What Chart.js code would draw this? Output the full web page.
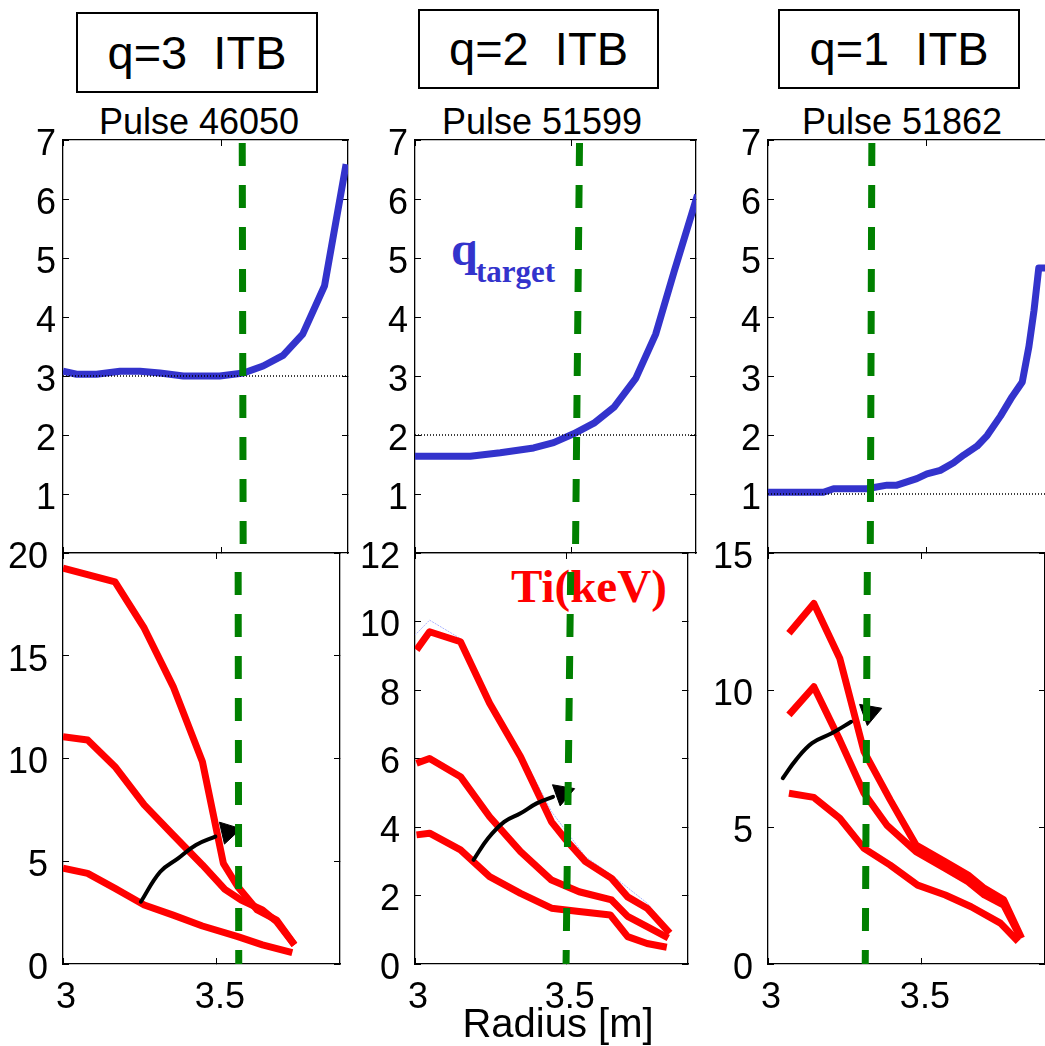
<!DOCTYPE html>
<html>
<head>
<meta charset="utf-8">
<script src="https://cdn.jsdelivr.net/npm/chart.js@4.4.1/dist/chart.umd.min.js"></script>
<style>
  html, body { margin:0; padding:0; background:#fff; }
  #fig { position:relative; width:1045px; height:1046px; overflow:hidden; background:#fff;
         font-family:"Liberation Sans", Arial, sans-serif; color:#000; }
  #fig canvas { position:absolute; z-index:2; }
  .box { position:absolute; border:2px solid #000; box-sizing:border-box; text-align:center;
         font-size:47px; white-space:pre; }
  .lbl { position:absolute; line-height:1; white-space:pre; z-index:1; }
  .pulse { font-size:36px; width:300px; text-align:center; }
  .serif { font-family:"Liberation Serif", "Times New Roman", serif; font-weight:bold; }
</style>
</head>
<body>
<div id="fig">
  <div class="box" style="left:76px;top:12px;width:242px;height:81px;line-height:77px">q=3  ITB</div>
  <div class="box" style="left:418px;top:9px;width:241px;height:80px;line-height:76px">q=2  ITB</div>
  <div class="box" style="left:778px;top:9px;width:242px;height:80px;line-height:76px">q=1  ITB</div>

  <div class="lbl pulse" style="left:49px;top:104px">Pulse 46050</div>
  <div class="lbl pulse" style="left:392px;top:104px">Pulse 51599</div>
  <div class="lbl pulse" style="left:752px;top:104px">Pulse 51862</div>

  <div class="lbl serif" style="left:451px;top:225px;font-size:48px;color:#3333cc">q</div>
  <div class="lbl serif" style="left:476px;top:256px;font-size:31px;color:#3333cc">target</div>
  <div class="lbl serif" style="left:511px;top:563px;font-size:47px;color:#ff0000">Ti(keV)</div>
  <div class="lbl" style="left:458px;top:1003px;font-size:40px;width:200px;text-align:center;z-index:3">Radius [m]</div>

  <canvas id="q46050"  width="354" height="437" style="left:0px;top:120px"></canvas>
  <canvas id="q51599"  width="350" height="437" style="left:352px;top:120px"></canvas>
  <canvas id="q51862"  width="354" height="437" style="left:705px;top:120px"></canvas>
  <canvas id="ti46050" width="354" height="513" style="left:0px;top:533px"></canvas>
  <canvas id="ti51599" width="350" height="513" style="left:352px;top:533px"></canvas>
  <canvas id="ti51862" width="354" height="513" style="left:705px;top:533px"></canvas>
</div>

<script>
// axis ticks
const rTicks = [3, 3.5];
const qTicks = [1, 2, 3, 4, 5, 6, 7];
const tiTicks1 = [0, 5, 10, 15, 20];
const tiTicks2 = [0, 2, 4, 6, 8, 10, 12];
const tiTicks3 = [0, 5, 10, 15];
const rMax = 3.9;

// q target profiles
const rQ1 = [3.0, 3.043, 3.106, 3.18, 3.243, 3.306, 3.38, 3.495, 3.57, 3.632, 3.695, 3.757, 3.826, 3.894];
const q1  = [3.08, 3.03, 3.03, 3.08, 3.08, 3.05, 3.0, 3.0, 3.05, 3.17, 3.35, 3.71, 4.53, 6.59];
const rQ2 = [3.0, 3.177, 3.273, 3.38, 3.444, 3.508, 3.573, 3.637, 3.707, 3.771, 3.83, 3.905];
const q2  = [1.64, 1.64, 1.70, 1.78, 1.87, 2.02, 2.2, 2.47, 2.96, 3.71, 4.77, 6.07];
const rQ3 = [3.0, 3.175, 3.207, 3.312, 3.376, 3.407, 3.47, 3.502, 3.544, 3.586, 3.618, 3.66, 3.692, 3.734, 3.771, 3.803, 3.824, 3.84, 3.855, 3.9];
const q3  = [1.03, 1.03, 1.09, 1.09, 1.15, 1.15, 1.26, 1.34, 1.40, 1.53, 1.66, 1.81, 1.99, 2.32, 2.65, 2.9, 3.5, 4.11, 4.83, 4.83];
const qRational = [3, 2, 1];

// Ti profiles, pulse 46050
const rTi1a = [3.0, 3.169, 3.264, 3.358, 3.453, 3.521, 3.568, 3.631, 3.694, 3.752];
const ti1a  = [19.26, 18.6, 16.34, 13.5, 9.84, 4.9, 3.76, 2.63, 2.14, 0.93];
const rTi1b = [3.0, 3.08, 3.169, 3.264, 3.358, 3.453, 3.526, 3.579, 3.648, 3.694, 3.752];
const ti1b  = [11.06, 10.9, 9.6, 7.74, 6.28, 4.82, 3.63, 3.11, 2.63, 2.06, 0.93];
const rTi1c = [3.0, 3.08, 3.169, 3.264, 3.358, 3.453, 3.568, 3.648, 3.745];
const ti1c  = [4.66, 4.41, 3.68, 2.87, 2.38, 1.85, 1.33, 0.93, 0.55];

// Ti profiles, pulse 51599 (plus the faint reference trace)
const rTi2a = [3.005, 3.048, 3.15, 3.246, 3.348, 3.45, 3.498, 3.562, 3.648, 3.701, 3.765, 3.84];
const ti2a  = [9.17, 9.70, 9.41, 7.61, 6.05, 4.15, 3.62, 2.99, 2.50, 1.96, 1.63, 0.90];
const rTi2f = [3.0, 3.048, 3.15, 3.246, 3.348, 3.45, 3.562, 3.648, 3.765, 3.84];
const ti2f  = [9.6, 10.04, 9.5, 7.7, 6.2, 4.45, 3.13, 2.6, 1.78, 0.99];
const rTi2b = [3.005, 3.048, 3.15, 3.246, 3.348, 3.45, 3.541, 3.648, 3.701, 3.765, 3.835];
const ti2b  = [5.86, 6.0, 5.47, 4.30, 3.28, 2.45, 2.11, 1.87, 1.39, 1.09, 0.76];
const rTi2c = [3.005, 3.048, 3.15, 3.246, 3.348, 3.45, 3.541, 3.644, 3.701, 3.765, 3.83];
const ti2c  = [3.77, 3.82, 3.33, 2.55, 2.06, 1.63, 1.53, 1.43, 0.80, 0.60, 0.49];

// Ti profiles, pulse 51862
const rTi3a = [3.068, 3.149, 3.233, 3.312, 3.397, 3.481, 3.576, 3.65, 3.703, 3.766, 3.824];
const ti3a  = [12.07, 13.16, 11.16, 7.75, 5.99, 4.34, 3.73, 3.25, 2.76, 2.34, 0.94];
const rTi3b = [3.068, 3.149, 3.233, 3.312, 3.386, 3.481, 3.576, 3.65, 3.703, 3.766, 3.819];
const ti3b  = [9.09, 10.12, 8.18, 6.23, 5.07, 4.10, 3.49, 3.0, 2.52, 2.15, 1.0];
const rTi3c = [3.068, 3.149, 3.233, 3.312, 3.397, 3.486, 3.576, 3.66, 3.755, 3.813];
const ti3c  = [6.23, 6.08, 5.32, 4.22, 3.61, 2.88, 2.52, 2.09, 1.49, 0.82];

// ITB foot evolution arrows: shaft, then head position and angle
const rArr1 = [3.253, 3.316, 3.374, 3.432, 3.495];
const tiArr1 = [3.03, 4.49, 5.14, 5.79, 6.2];
const rArr2 = [3.193, 3.241, 3.294, 3.348, 3.401, 3.455];
const tiArr2 = [3.04, 3.67, 4.15, 4.40, 4.69, 4.88];
const rArr3 = [3.048, 3.091, 3.143, 3.207, 3.27];
const tiArr3 = [6.78, 7.45, 8.06, 8.42, 8.84];
const arrowHeads = [[3.537, 6.44, 77], [3.486, 4.99, 70], [3.33, 9.17, 70]];

// ITB position (green dashed): radius at top, at the row split, at bottom
const itbR = [[3.566, 3.569, 3.571], [3.527, 3.514, 3.498], [3.328, 3.323, 3.316]];

const BLUE = '#3333cc', RED = '#ff0000', GREEN = '#008000';
const tickFont = { family: 'Liberation Sans', size: 36 };

function pts(xs, ys) { return xs.map((x, i) => ({ x: x, y: ys[i] })); }

function curve(xs, ys, color, width, order, extra) {
  return Object.assign({
    data: pts(xs, ys), borderColor: color, borderWidth: width, showLine: true,
    pointRadius: 0, fill: false, borderJoinStyle: 'round', order: order
  }, extra || {});
}

function itbLine(col, yTop, top) {
  const r = itbR[col];
  const xs = top ? [r[0], r[1]] : [r[1], r[2]];
  return curve(xs, [yTop, 0], GREEN, 7, 0, { borderDash: [23, 19], borderDashOffset: top ? 39 : 23 });
}

function arrow(xs, ys, head) {
  return [
    curve(xs, ys, '#000', 4, 1, { borderCapStyle: 'round', tension: 0.4 }),
    { data: [{ x: head[0], y: head[1] }], showLine: false, pointStyle: 'triangle',
      pointRadius: 13, rotation: head[2], backgroundColor: '#000', borderColor: '#000',
      borderWidth: 1, order: 1 }
  ];
}

// box style axes: inward ticks on all four sides
function scales(yMax, yTicks, showX, yPad) {
  const frame = { display: true, color: '#000', width: 1.3 };
  const grid = { drawOnChartArea: false, tickLength: -6, color: '#000', lineWidth: 1 };
  const fixW = w => s => { s.width = w; s.paddingTop = 0; s.paddingBottom = 0; };
  const fixH = h => s => { s.height = h; s.paddingLeft = 0; s.paddingRight = 0; };
  const setX = s => { s.ticks = rTicks.map(v => ({ value: v })); };
  const setY = s => { s.ticks = yTicks.map(v => ({ value: v })); };
  return {
    x:  { type: 'linear', min: 3, max: rMax, border: frame, grid: grid, afterBuildTicks: setX,
          ticks: { display: showX, font: tickFont, color: '#000', padding: 18, labelOffset: 3,
                   maxRotation: 0, callback: v => String(v) },
          afterFit: fixH(showX ? 82 : 0) },
    x2: { type: 'linear', position: 'top', min: 3, max: rMax, border: frame, grid: grid,
          afterBuildTicks: setX, ticks: { display: false }, afterFit: fixH(0) },
    y:  { type: 'linear', min: 0, max: yMax, border: frame, grid: grid, afterBuildTicks: setY,
          ticks: { font: tickFont, color: '#000', padding: yPad, labelOffset: 5, callback: v => String(v) },
          afterFit: fixW(63) },
    y2: { type: 'linear', position: 'right', min: 0, max: yMax, border: frame, grid: grid,
          afterBuildTicks: setY, ticks: { display: false }, afterFit: fixW(0) }
  };
}

function panel(id, yMax, yTicks, top, datasets) {
  new Chart(document.getElementById(id), {
    type: 'scatter',
    data: { datasets: datasets },
    options: {
      responsive: false, animation: false, devicePixelRatio: 1,
      layout: { padding: { top: 20, left: 0, right: 6, bottom: top ? 4 : 0 } },
      plugins: { legend: { display: false }, tooltip: { enabled: false } },
      scales: scales(yMax, yTicks, !top, top ? 13 : 21)
    }
  });
}

// top row: q target with the rational surface
const qR = [rQ1, rQ2, rQ3], qV = [q1, q2, q3];
['q46050', 'q51599', 'q51862'].forEach((id, c) => {
  panel(id, 7, qTicks, true, [
    itbLine(c, 7, true),
    curve([3, rMax], [qRational[c], qRational[c]], '#000', 1.4, 1, { borderDash: [1, 2] }),
    curve(qR[c], qV[c], BLUE, 7, 2)
  ]);
});

// bottom row: Ti profiles
panel('ti46050', 20, tiTicks1, false, [
  itbLine(0, 20, false),
  ...arrow(rArr1, tiArr1, arrowHeads[0]),
  curve(rTi1a, ti1a, RED, 7, 3),
  curve(rTi1b, ti1b, RED, 7, 3),
  curve(rTi1c, ti1c, RED, 7, 3)
]);
panel('ti51599', 12, tiTicks2, false, [
  itbLine(1, 12, false),
  ...arrow(rArr2, tiArr2, arrowHeads[1]),
  curve(rTi2a, ti2a, RED, 7, 3),
  curve(rTi2b, ti2b, RED, 7, 3),
  curve(rTi2c, ti2c, RED, 7, 3),
  curve(rTi2f, ti2f, '#aab4ff', 1, 4, { borderDash: [2, 1] })
]);
panel('ti51862', 15, tiTicks3, false, [
  itbLine(2, 15, false),
  ...arrow(rArr3, tiArr3, arrowHeads[2]),
  curve(rTi3a, ti3a, RED, 7, 3),
  curve(rTi3b, ti3b, RED, 7, 3),
  curve(rTi3c, ti3c, RED, 7, 3)
]);
</script>
</body>
</html>
